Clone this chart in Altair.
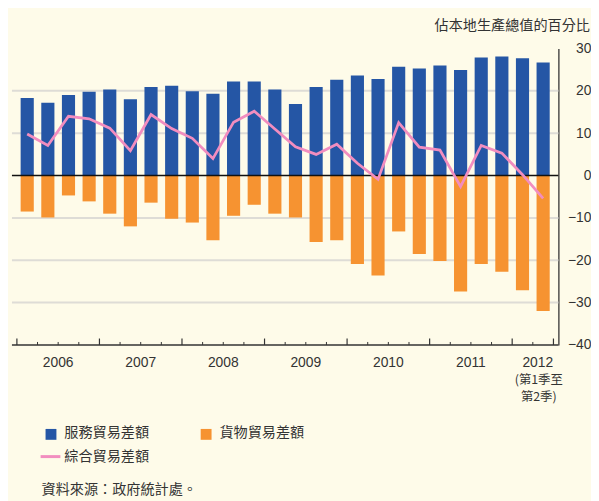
import altair as alt
import pandas as pd

# ---- data (percent of GDP), quarterly 2006 Q1 - 2012 Q2 ----
services = [18.3, 17.2, 19.0, 19.8, 20.3, 18.0, 20.9, 21.2, 19.9, 19.3, 22.2, 22.2, 20.3,
            16.9, 20.9, 22.6, 23.6, 22.8, 25.7, 25.3, 26.0, 24.9, 27.9, 28.1, 27.7, 26.7]
goods = [-8.5, -9.9, -4.7, -6.1, -9.0, -12.0, -6.4, -10.2, -11.1, -15.3, -9.5, -6.9, -9.0,
         -9.9, -15.7, -15.3, -20.9, -23.6, -13.2, -18.5, -20.2, -27.4, -20.9, -22.7, -27.1, -32.0]
combined = [9.8, 7.1, 14.0, 13.4, 11.2, 5.9, 14.4, 11.1, 8.8, 4.0, 12.6, 15.2, 11.0,
            6.8, 5.0, 7.4, 2.9, -0.9, 12.5, 6.7, 6.0, -2.6, 7.1, 5.3, 0.2, -5.4]
years = ["2006", "2007", "2008", "2009", "2010", "2011", "2012"]
quarters_per_year = [4, 4, 4, 4, 4, 4, 2]
note_2012 = ["(第1季至", "第2季)"]
y_ticks = [-40, -30, -20, -10, 0, 10, 20, 30]
legend_labels = ["服務貿易差額", "貨物貿易差額", "綜合貿易差額"]
axis_title = "佔本地生產總值的百分比"
source_text = "資料來源：政府統計處。"

BLUE = "#2556A5"
ORANGE = "#F69331"
PINK = "#F28DBF"
BG = "#FEFBE9"
GRID = "#DEDCD6"
TXT = "#333333"
CJK = "Noto Sans CJK TC"
NUM = "Liberation Sans"

W, H = 553, 300
n = len(services)

df = pd.DataFrame({
    "pos": [i + 0.5 for i in range(n)],
    "services": services,
    "goods": goods,
    "combined": combined,
})

xs = alt.Scale(domain=[0, n], nice=False, zero=False)
ys = alt.Scale(domain=[-40, 30], nice=False, zero=False)

YAX = alt.Axis(orient="right", values=y_ticks, grid=False, ticks=False, tickSize=0,
               labelPadding=33, labelAlign="right", labelFont=NUM, labelFontSize=14,
               labelColor=TXT, domainColor=TXT, domainWidth=1.3, title=None,
               labelBaseline="middle")


def Yq(field):
    return alt.Y(field, scale=ys, axis=YAX)


def Xq(field):
    return alt.X(field, scale=xs, axis=None)


grid_df = pd.DataFrame({"v": [v for v in y_ticks if v not in (0, min(y_ticks), max(y_ticks))]})
grid = alt.Chart(grid_df).mark_rule(color=GRID, strokeWidth=2).encode(y=Yq("v:Q"))

bars_s = alt.Chart(df).mark_bar(color=BLUE, size=13.3).encode(x=Xq("pos:Q"), y=Yq("services:Q"))
bars_g = alt.Chart(df).mark_bar(color=ORANGE, size=13.3).encode(x=Xq("pos:Q"), y=Yq("goods:Q"))

zero = alt.Chart(pd.DataFrame({"v": [0]})).mark_rule(color="#111111", strokeWidth=1.5).encode(y=Yq("v:Q"))

line = alt.Chart(df).mark_line(color=PINK, strokeWidth=2.8).encode(x=Xq("pos:Q"), y=Yq("combined:Q"))

# bottom axis line
base_line = alt.Chart(pd.DataFrame({"v": [min(y_ticks)]})).mark_rule(color=TXT, strokeWidth=1.5).encode(
    y=Yq("v:Q"))

# quarter / year ticks
bounds = []
acc = 0
year_starts = set()
for q in quarters_per_year:
    year_starts.add(acc)
    acc += q
year_starts.add(acc)
for b in range(n + 1):
    bounds.append({"b": b, "major": b in year_starts})
tick_df = pd.DataFrame(bounds)
minor_ticks = alt.Chart(tick_df[~tick_df["major"]]).mark_rule(color=TXT, strokeWidth=1).encode(
    x=Xq("b:Q"), y=alt.value(H), y2=alt.value(H - 3)
)
major_ticks = alt.Chart(tick_df[tick_df["major"]]).mark_rule(color=TXT, strokeWidth=1.2).encode(
    x=Xq("b:Q"), y=alt.value(H), y2=alt.value(H - 6.5)
)

# year labels
yl = []
acc = 0
for yname, q in zip(years, quarters_per_year):
    yl.append({"c": acc + q / 2, "t": yname})
    acc += q
yl_df = pd.DataFrame(yl)
year_text = alt.Chart(yl_df.iloc[:-1]).mark_text(font=NUM, fontSize=14, color=TXT, baseline="middle").encode(
    x=Xq("c:Q"), y=alt.value(H + 18), text="t:N"
)
year_last = alt.Chart(yl_df.iloc[-1:]).mark_text(font=NUM, fontSize=14, color=TXT, baseline="middle", dx=5).encode(
    x=Xq("c:Q"), y=alt.value(H + 18), text="t:N"
)
note_df = pd.DataFrame({"c": [yl[-1]["c"]] * 2, "t": note_2012})
note1 = alt.Chart(note_df.iloc[:1]).mark_text(font=CJK, fontSize=12.5, color=TXT, baseline="middle", dx=6).encode(
    x=Xq("c:Q"), y=alt.value(H + 36), text="t:N"
)
note2 = alt.Chart(note_df.iloc[1:]).mark_text(font=CJK, fontSize=12.5, color=TXT, baseline="middle", dx=6).encode(
    x=Xq("c:Q"), y=alt.value(H + 53), text="t:N"
)

# title (top right)
title = alt.Chart(pd.DataFrame({"t": [axis_title]})).mark_text(
    font=CJK, fontSize=14.3, color=TXT, align="right", baseline="middle"
).encode(x=alt.value(585), y=alt.value(-23), text="t:N")

# legend
sq1 = alt.Chart(pd.DataFrame({"t": [legend_labels[0]]})).mark_rect(color=BLUE).encode(
    x=alt.value(34), x2=alt.value(45), y=alt.value(385), y2=alt.value(396))
sq2 = alt.Chart(pd.DataFrame({"t": [legend_labels[1]]})).mark_rect(color=ORANGE).encode(
    x=alt.value(191), x2=alt.value(202), y=alt.value(385), y2=alt.value(396))
lg_line = alt.Chart(pd.DataFrame({"t": [legend_labels[2]]})).mark_rule(color=PINK, strokeWidth=3).encode(
    x=alt.value(29), x2=alt.value(49), y=alt.value(413))
lt1 = alt.Chart(pd.DataFrame({"t": [legend_labels[0]]})).mark_text(
    font=CJK, fontSize=14.3, color=TXT, align="left", baseline="middle").encode(
    x=alt.value(53), y=alt.value(389), text="t:N")
lt2 = alt.Chart(pd.DataFrame({"t": [legend_labels[1]]})).mark_text(
    font=CJK, fontSize=14.3, color=TXT, align="left", baseline="middle").encode(
    x=alt.value(210), y=alt.value(389), text="t:N")
lt3 = alt.Chart(pd.DataFrame({"t": [legend_labels[2]]})).mark_text(
    font=CJK, fontSize=14.3, color=TXT, align="left", baseline="middle").encode(
    x=alt.value(53), y=alt.value(413), text="t:N")
src = alt.Chart(pd.DataFrame({"t": [source_text]})).mark_text(
    font=CJK, fontSize=14.3, color=TXT, align="left", baseline="middle").encode(
    x=alt.value(30), y=alt.value(447), text="t:N")

chart = alt.layer(
    grid, bars_s, bars_g, zero, line, base_line, minor_ticks, major_ticks,
    year_text, year_last, note1, note2, title,
    sq1, sq2, lg_line, lt1, lt2, lt3, src,
).properties(
    width=W, height=H,
    autosize=alt.AutoSizeParams(type="none"),
    padding={"left": 4, "top": 38, "right": 33, "bottom": 160},
    background=BG,
).configure_view(stroke=None)

chart.save("out.html", embed_options={"renderer": "svg", "actions": False})
